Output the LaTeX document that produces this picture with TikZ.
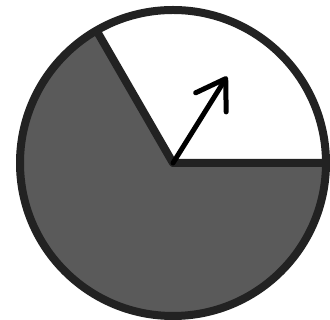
\documentclass[tikz,border=0pt]{standalone}
\usepackage{tikz}
\usetikzlibrary{arrows.meta,calc}
\definecolor{rimgray}{HTML}{222222}
\definecolor{piegray}{HTML}{5A5A5A}
\tikzset{
  rim/.style={draw=rimgray,line width=8pt,line join=round},
  slice/.style={fill=piegray},
  pointer/.style={-{Straight Barb[length=28pt,width=36pt,round]},line width=5pt,line cap=round,black}
}

\begin{document}
\begin{tikzpicture}[x=1pt,y=1pt]
\useasboundingbox (0,0) rectangle (330,320);
\coordinate (c) at (173,157);
\coordinate (east) at ($(c)+(0:153)$);
\coordinate (edge) at ($(c)+(120:153)$);
\coordinate (tip) at ($(c)+(58:102)$);

% disc with the dark slice
\fill[white] (c) circle[radius=153];
\fill[slice] (c) -- (east) arc[start angle=0,end angle=-240,radius=153] -- cycle;
\draw[rim] (c) circle[radius=153];
\draw[rim] (east) -- (c) -- (edge);

\draw[pointer] (c) -- (tip);
\end{tikzpicture}
\end{document}
